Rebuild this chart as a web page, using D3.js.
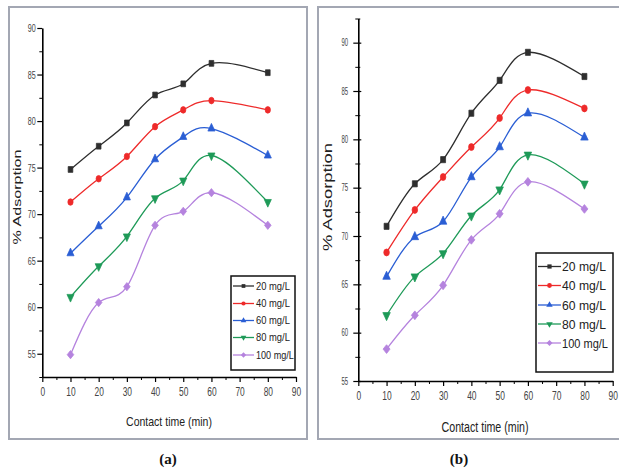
<!DOCTYPE html>
<html>
<head>
<meta charset="utf-8">
<script src="https://cdn.jsdelivr.net/npm/d3@7"></script>
<style>
  html, body { margin: 0; padding: 0; background: #fff; }
  svg { display: block; font-family: "Liberation Sans", Arial, sans-serif; }
</style>
</head>
<body>
<svg id="chart" width="619" height="470"></svg>
<script>
// ---- data
const times = [10, 20, 30, 40, 50, 60, 80];
const seriesNames = ['20 mg/L', '40 mg/L', '60 mg/L', '80 mg/L', '100 mg/L'];

// panel (a)
const a20  = [74.8, 77.3, 79.8, 82.8, 84.0, 86.2, 85.2];
const a40  = [71.3, 73.8, 76.2, 79.4, 81.2, 82.2, 81.2];
const a60  = [65.8, 68.7, 71.8, 75.9, 78.3, 79.2, 76.3];
const a80  = [61.1, 64.4, 67.6, 71.7, 73.6, 76.3, 71.3];
const a100 = [54.9, 60.5, 62.2, 68.8, 70.3, 72.3, 68.8];

// panel (b)
const b20  = [71.0, 75.4, 77.9, 82.7, 86.1, 89.0, 86.5];
const b40  = [68.3, 72.7, 76.1, 79.2, 82.2, 85.1, 83.2];
const b60  = [65.8, 69.9, 71.5, 76.1, 79.2, 82.7, 80.2];
const b80  = [61.8, 65.8, 68.2, 72.1, 74.8, 78.4, 75.4];
const b100 = [58.3, 61.8, 64.9, 69.6, 72.3, 75.6, 72.8];

const xTicks = [0, 10, 20, 30, 40, 50, 60, 70, 80, 90];
const xMinor = [5, 15, 25, 35, 45, 55, 65, 75, 85];
const yTicks = [55, 60, 65, 70, 75, 80, 85, 90];
const yMinorA = [52.5, 57.5, 62.5, 67.5, 72.5, 77.5, 82.5, 87.5];
const yMinorB = [57.5, 62.5, 67.5, 72.5, 77.5, 82.5, 87.5, 92.5];

const colors = ['#2e2e2e', '#ee2a2a', '#2a5ed4', '#1e9a58', '#b583de'];
const symbols = ['square', 'circle', 'triangle', 'triangleDown', 'diamond'];

const svg = d3.select('#chart');

// scale a text horizontally so it spans `w` pixels (anchor stays put)
function fitWidth(sel, w) {
  sel.each(function () {
    const t = d3.select(this);
    const len = this.getComputedTextLength();
    const base = t.attr('transform') || '';
    t.attr('transform', `${base} scale(${w / len},1)`);
  });
}

function symbolPath(kind, size) {
  if (kind === 'circle') return d3.symbol(d3.symbolCircle, size)();
  if (kind === 'square') return d3.symbol(d3.symbolSquare, size)();
  if (kind === 'diamond') return d3.symbol(d3.symbolSquare, size)();
  return d3.symbol(d3.symbolTriangle, size)();
}
function symbolRot(kind) {
  if (kind === 'diamond') return 45;
  if (kind === 'triangleDown') return 180;
  return 0;
}

function drawPanel(o) {
  const g = svg.append('g');

  // outer frame
  g.append('rect')
    .attr('x', o.frame[0]).attr('y', o.frame[1])
    .attr('width', o.frame[2]).attr('height', o.frame[3])
    .attr('fill', 'none').attr('stroke', '#a3a7b3').attr('stroke-width', 2);

  const x = d3.scaleLinear().domain([0, 90]).range([o.x0, o.x1]);
  const y = d3.scaleLinear().domain(o.yDomain).range([o.yBottom, o.yTop]);

  // minor ticks
  g.append('g')
    .attr('transform', `translate(0,${o.yBottom})`)
    .call(d3.axisBottom(x).tickValues(xMinor).tickSize(3).tickFormat(''))
    .call(a => a.select('.domain').remove())
    .call(a => a.selectAll('.tick line').attr('stroke', '#000').attr('stroke-width', 1));
  g.append('g')
    .attr('transform', `translate(${o.x0},0)`)
    .call(d3.axisLeft(y).tickValues(o.yMinor).tickSize(3).tickFormat(''))
    .call(a => a.select('.domain').remove())
    .call(a => a.selectAll('.tick line').attr('stroke', '#000').attr('stroke-width', 1)
      .attr('x2', -3).attr('x1', o.crossTicks ? 2 : 0));

  // x axis
  g.append('g')
    .attr('transform', `translate(0,${o.yBottom})`)
    .call(d3.axisBottom(x).tickValues(xTicks).tickSize(5).tickSizeOuter(0).tickFormat(d3.format('d')))
    .call(a => a.select('.domain').attr('stroke', '#000').attr('stroke-width', 1.6))
    .call(a => a.selectAll('.tick line').attr('stroke', '#000').attr('stroke-width', 1.2))
    .call(a => a.selectAll('.tick text')
      .attr('y', 10).attr('fill', '#444')
      .style('font-size', o.xTickFont + 'px')
      .attr('transform', `scale(${o.xTickScale},1)`));

  // y axis
  g.append('g')
    .attr('transform', `translate(${o.x0},0)`)
    .call(d3.axisLeft(y).tickValues(yTicks).tickSize(5).tickSizeOuter(0).tickFormat(d3.format('d')))
    .call(a => a.select('.domain').attr('stroke', '#000').attr('stroke-width', 1.6))
    .call(a => a.selectAll('.tick line').attr('stroke', '#000').attr('stroke-width', 1.2)
      .attr('x1', o.crossTicks ? 3 : 0))
    .call(a => a.selectAll('.tick text')
      .attr('x', o.yTickX).attr('fill', '#444')
      .style('font-size', o.yTickFont + 'px')
      .attr('transform', `scale(${o.yTickScale},1)`));

  // axis titles
  const xt = g.append('text')
    .attr('text-anchor', 'middle')
    .attr('transform', `translate(${o.xTitle[0]},${o.xTitle[1]})`)
    .style('font-size', o.xTitle[3] + 'px')
    .attr('fill', '#222')
    .text('Contact time (min)');
  fitWidth(xt, o.xTitle[2]);

  const yt = g.append('text')
    .attr('text-anchor', 'middle')
    .style('font-size', '14px')
    .attr('fill', '#222')
    .text('% Adsorption');
  const ylen = yt.node().getComputedTextLength();
  yt.style('font-size', (14 * o.yTitle[2] / ylen) + 'px')
    .attr('transform', `translate(${o.yTitle[0]},${o.yTitle[1]}) scale(0.65,1) rotate(-90)`);

  // series (smooth spline through the points, like the original)
  const line = d3.line()
    .x(d => x(d.t)).y(d => y(d.v))
    .curve(d3.curveNatural);

  o.values.forEach((vals, i) => {
    const pts = times.map((t, k) => ({ t, v: vals[k] }));
    g.append('path')
      .datum(pts)
      .attr('d', line)
      .attr('fill', 'none')
      .attr('stroke', colors[i])
      .attr('stroke-width', 1.3);
    g.selectAll(null)
      .data(pts)
      .join('path')
      .attr('d', symbolPath(symbols[i], o.markSize))
      .attr('transform', d => `translate(${x(d.t)},${y(d.v)}) scale(0.8,1) rotate(${symbolRot(symbols[i])})`)
      .attr('fill', colors[i])
      .attr('stroke', colors[i])
      .attr('stroke-width', 0.8);
  });

  // legend
  const L = o.legend;
  g.append('rect')
    .attr('x', L.box[0]).attr('y', L.box[1])
    .attr('width', L.box[2]).attr('height', L.box[3])
    .attr('fill', '#fff').attr('stroke', '#111').attr('stroke-width', 1.5);
  seriesNames.forEach((name, i) => {
    const ry = L.rows[i];
    g.append('line')
      .attr('x1', L.line[0]).attr('x2', L.line[1])
      .attr('y1', ry).attr('y2', ry)
      .attr('stroke', colors[i]).attr('stroke-width', 1.3);
    g.append('path')
      .attr('d', symbolPath(symbols[i], L.markSize))
      .attr('transform', `translate(${(L.line[0] + L.line[1]) / 2},${ry}) rotate(${symbolRot(symbols[i])})`)
      .attr('fill', colors[i]);
    const lt = g.append('text')
      .attr('transform', `translate(${L.textX},${ry + L.font * 0.36})`)
      .style('font-size', L.font + 'px')
      .attr('fill', '#222')
      .text(name);
    fitWidth(lt, name.length === 8 ? L.w100 : L.w20);
  });

  // caption
  g.append('text')
    .attr('x', o.caption[0]).attr('y', o.caption[1])
    .attr('text-anchor', 'middle')
    .style('font-family', '"Liberation Serif", "Times New Roman", serif')
    .style('font-weight', 'bold')
    .style('font-size', '15px')
    .attr('fill', '#111')
    .text(o.caption[2]);
}

drawPanel({
  frame: [9, 7, 298, 432],
  x0: 42.3, x1: 296,
  yDomain: [52.5, 90], yBottom: 377, yTop: 28,
  yMinor: yMinorA, crossTicks: false,
  xTickFont: 12, xTickScale: 0.7,
  yTickFont: 11, yTickScale: 0.65, yTickX: -10,
  xTitle: [169, 426, 86, 12],
  yTitle: [21, 197, 95],
  values: [a20, a40, a60, a80, a100],
  markSize: 34,
  legend: {
    box: [231, 276, 64, 94],
    rows: [286, 303.5, 320.5, 337.5, 355],
    line: [233, 254], textX: 256, font: 10, w20: 34, w100: 38,
    markSize: 14
  },
  caption: [168, 464, '(a)']
});

drawPanel({
  frame: [318, 7, 320, 432],
  x0: 358.3, x1: 612.7,
  yDomain: [55, 92.5], yBottom: 381, yTop: 18.5,
  yMinor: yMinorB, crossTicks: true,
  xTickFont: 13, xTickScale: 0.65,
  yTickFont: 10, yTickScale: 0.6, yTickX: -17,
  xTitle: [485, 432, 87, 15],
  yTitle: [332, 197, 108],
  values: [b20, b40, b60, b80, b100],
  markSize: 38,
  legend: {
    box: [536, 253, 77, 119],
    rows: [266.5, 285.5, 305, 324, 343],
    line: [538, 561], textX: 562, font: 13, w20: 44, w100: 46,
    markSize: 18
  },
  caption: [459, 464, '(b)']
});
</script>
</body>
</html>
